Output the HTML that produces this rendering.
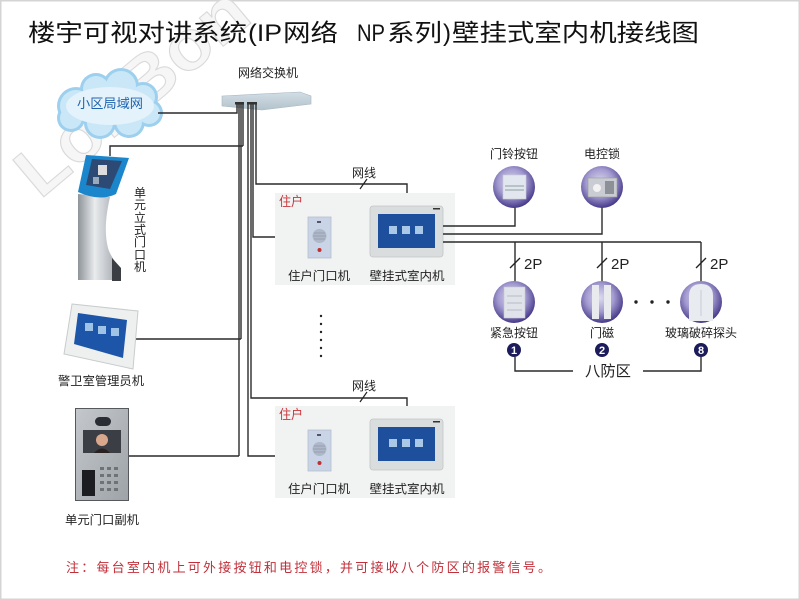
<!DOCTYPE html>
<html><head><meta charset="utf-8"><style>
html,body{margin:0;padding:0;background:#fff;}
body{width:800px;height:600px;overflow:hidden;}
svg{display:block;font-family:"Liberation Sans","Noto Sans CJK SC",sans-serif;}
</style></head><body>
<svg width="800" height="600" viewBox="0 0 800 600" xmlns="http://www.w3.org/2000/svg">
<defs>
<radialGradient id="sph" cx="45%" cy="40%" r="60%">
<stop offset="0" stop-color="#dcdaf0"/><stop offset="0.55" stop-color="#a39bd0"/><stop offset="1" stop-color="#463a8a"/>
</radialGradient>
<linearGradient id="col" x1="0" x2="1" y1="0" y2="0">
<stop offset="0" stop-color="#8e949a"/><stop offset="0.4" stop-color="#e9ebed"/><stop offset="0.8" stop-color="#b4b9be"/><stop offset="1" stop-color="#6d7378"/>
</linearGradient>
<linearGradient id="sw" x1="0" x2="0" y1="0" y2="1">
<stop offset="0" stop-color="#d3dee6"/><stop offset="1" stop-color="#b3c2cc"/>
</linearGradient>
<linearGradient id="pnl" x1="0" x2="1" y1="0" y2="1">
<stop offset="0" stop-color="#c4c8cc"/><stop offset="1" stop-color="#9ea3a8"/>
</linearGradient>
</defs>
<rect x="0.5" y="0.5" width="799" height="599" fill="#fff" stroke="#d4d4d4" stroke-width="2"/>

<!-- watermark -->
<text x="40" y="200" transform="rotate(-40 40 200)" font-size="70" font-weight="bold" fill="#f6f6f6" stroke="#dadada" stroke-width="1.1" textLength="280" lengthAdjust="spacingAndGlyphs">LollBon</text>

<!-- title -->
<g font-size="24" fill="#111">
<text x="28" y="41" textLength="219" lengthAdjust="spacingAndGlyphs">楼宇可视对讲系统</text>
<text x="248" y="41" textLength="34" lengthAdjust="spacingAndGlyphs">(IP</text>
<text x="283" y="41" textLength="55" lengthAdjust="spacingAndGlyphs">网络</text>
<text x="357" y="41" textLength="28" lengthAdjust="spacingAndGlyphs">NP</text>
<text x="387" y="41" textLength="55" lengthAdjust="spacingAndGlyphs">系列</text>
<text x="443" y="41" textLength="8" lengthAdjust="spacingAndGlyphs">)</text>
<text x="452" y="41" textLength="247" lengthAdjust="spacingAndGlyphs">壁挂式室内机接线图</text>
</g>

<!-- cloud -->
<g fill="#9dd0ee">
<circle cx="76" cy="106" r="19"/><circle cx="96" cy="89" r="16"/><circle cx="121" cy="86" r="18"/><circle cx="143" cy="97" r="15"/><circle cx="149" cy="113" r="14"/><circle cx="129" cy="122" r="16"/><circle cx="100" cy="123" r="16"/><circle cx="71" cy="118" r="14"/>
</g>
<g fill="#c9e7f7">
<circle cx="76" cy="106" r="16"/><circle cx="96" cy="89" r="13"/><circle cx="121" cy="86" r="15"/><circle cx="143" cy="97" r="12"/><circle cx="149" cy="113" r="11"/><circle cx="129" cy="122" r="13"/><circle cx="100" cy="123" r="13"/><circle cx="71" cy="118" r="11"/>
</g>
<ellipse cx="110" cy="106" rx="44" ry="19" fill="#e3f2fb"/>
<text x="110" y="108" font-size="13" fill="#1f63b0" text-anchor="middle" textLength="66" lengthAdjust="spacingAndGlyphs">小区局域网</text>

<!-- switch -->
<text x="268" y="77" font-size="12" fill="#222" text-anchor="middle" textLength="60" lengthAdjust="spacingAndGlyphs">网络交换机</text>
<polygon points="222,96 300,92 311,96 311,104 262,110 222,106" fill="url(#sw)" stroke="#a7b6c0" stroke-width="0.6"/>
<rect x="235" y="102" width="9" height="2.5" fill="#333"/><rect x="247" y="102" width="10" height="2.5" fill="#333"/>

<!-- wires -->
<g fill="none" stroke="#2a2a2a" stroke-width="1.4">
<path d="M158,113 H237 V104"/>
<path d="M110,156 V146 H243"/>
<path d="M239,104 V456 M241,104 V339 M243,104 V146"/>
<path d="M133,339 H241"/>
<path d="M129,456 H239"/>
<path d="M256,104 V184 H407 V206"/>
<path d="M253,104 V237 H308"/>
<path d="M251,104 V398 H407 V419"/>
<path d="M248,104 V456 H308"/>
</g>

<!-- kiosk -->
<path d="M78,194 L110,197 C106,215 104,232 108,248 C111,258 118,264 120,272 L120,280 L78,280 Z" fill="url(#col)"/>
<path d="M112,258 L121,268 L121,281 L112,281 Z" fill="#3b3f44"/>
<path d="M86,155 L129,158 L116,194 Q100,202 78,192 Z" fill="#1b86cc"/>
<polygon points="92,159 122,161 110,189 86,185" fill="#2c4a73"/>
<rect x="98" y="165" width="9" height="10" fill="#ddd"/>
<rect x="93" y="177" width="6" height="7" fill="#9ab"/>

<!-- kiosk label -->
<g font-size="12" fill="#222" text-anchor="middle">
<text x="140" y="197">单</text><text x="140" y="209">元</text><text x="140" y="222">立</text><text x="140" y="234">式</text><text x="140" y="246">门</text><text x="140" y="259">口</text><text x="140" y="271">机</text>
</g>

<!-- guard machine -->
<polygon points="72,304 138,311 133,369 64,354" fill="#eef0f0" stroke="#c8cccc" stroke-width="1"/>
<polygon points="78,313 127,320 123,358 74,344" fill="#1d56a8"/>
<rect x="85" y="323" width="8" height="8" fill="#9fc3e6"/><rect x="98" y="326" width="8" height="8" fill="#9fc3e6"/><rect x="111" y="328" width="8" height="8" fill="#9fc3e6"/>
<text x="101" y="385" font-size="12" fill="#222" text-anchor="middle" textLength="86" lengthAdjust="spacingAndGlyphs">警卫室管理员机</text>

<!-- sub door unit -->
<rect x="75.5" y="408.5" width="53" height="92" fill="url(#pnl)" stroke="#55595d" stroke-width="1"/>
<rect x="95" y="417" width="16" height="9" rx="4.5" fill="#2a2d33"/>
<rect x="83" y="430" width="38" height="23" fill="#3b3e45"/>
<circle cx="102" cy="440" r="6" fill="#d9a88c"/><path d="M94,453 Q102,444 110,453 Z" fill="#2a2020"/>
<rect x="82" y="470" width="13" height="26" fill="#1c1d20"/>
<g fill="#6e7378"><rect x="100" y="467" width="4" height="3"/><rect x="107" y="467" width="4" height="3"/><rect x="114" y="467" width="4" height="3"/><rect x="100" y="474" width="4" height="3"/><rect x="107" y="474" width="4" height="3"/><rect x="114" y="474" width="4" height="3"/><rect x="100" y="481" width="4" height="3"/><rect x="107" y="481" width="4" height="3"/><rect x="114" y="481" width="4" height="3"/><rect x="100" y="488" width="4" height="3"/><rect x="107" y="488" width="4" height="3"/><rect x="114" y="488" width="4" height="3"/></g>
<text x="102" y="524" font-size="12" fill="#222" text-anchor="middle" textLength="74" lengthAdjust="spacingAndGlyphs">单元门口副机</text>

<!-- households -->
<g id="hh">
<rect x="275" y="193" width="180" height="92" fill="#f1f2f2"/>
<text x="279" y="206" font-size="13" fill="#c8343a" textLength="24" lengthAdjust="spacingAndGlyphs">住户</text>
<rect x="308" y="217" width="23" height="41" fill="#c9d5e6" stroke="#b3bfcf" stroke-width="0.8"/>
<rect x="317" y="221" width="4" height="2" fill="#556"/>
<circle cx="319.5" cy="236" r="7" fill="#aeb8c8"/>
<path d="M314,233 H325 M313,236 H326 M314,239 H325" stroke="#8e98aa" stroke-width="0.8"/>
<circle cx="319.5" cy="250" r="2" fill="#c03030"/>
<rect x="370" y="206" width="73" height="51" rx="3" fill="#d9dddd" stroke="#c2c6c6" stroke-width="0.8"/>
<rect x="378" y="214" width="57" height="34" fill="#1e4f9c"/>
<rect x="389" y="226" width="8" height="8" fill="#a9c8e8"/><rect x="402" y="226" width="8" height="8" fill="#a9c8e8"/><rect x="415" y="226" width="8" height="8" fill="#a9c8e8"/>
<rect x="433" y="208" width="7" height="1.5" fill="#333"/>
<text x="319" y="280" font-size="12" fill="#222" text-anchor="middle" textLength="62" lengthAdjust="spacingAndGlyphs">住户门口机</text>
<text x="407" y="280" font-size="12" fill="#222" text-anchor="middle" textLength="75" lengthAdjust="spacingAndGlyphs">壁挂式室内机</text>
<text x="364" y="177" font-size="12" fill="#222" text-anchor="middle" textLength="24" lengthAdjust="spacingAndGlyphs">网线</text>
<path d="M360,189 L367,179" stroke="#222" stroke-width="1.2"/>
</g>
<use href="#hh" transform="translate(0,213)"/>

<!-- vertical dots -->
<g fill="#222"><circle cx="321" cy="316" r="1.2"/><circle cx="321" cy="324" r="1.2"/><circle cx="321" cy="332" r="1.2"/><circle cx="321" cy="340" r="1.2"/><circle cx="321" cy="348" r="1.2"/><circle cx="321" cy="356" r="1.2"/></g>

<!-- right side wiring -->
<g fill="none" stroke="#2a2a2a" stroke-width="1.4">
<path d="M443,226 H515 V206"/>
<path d="M443,234 H602 V206"/>
<path d="M443,242 H701"/>
<path d="M515,242 V282 M602,242 V282 M701,242 V282"/>
<path d="M515,357 V371 H573 M643,371 H701 V357"/>
</g>
<g stroke="#222" stroke-width="1.3">
<path d="M510,268 L520,258"/><path d="M597,268 L607,258"/><path d="M696,268 L706,258"/>
</g>
<g font-size="15" fill="#222">
<text x="524" y="269">2P</text><text x="611" y="269">2P</text><text x="710" y="269">2P</text>
</g>

<!-- spheres -->
<circle cx="514" cy="187" r="21" fill="url(#sph)"/>
<rect x="503" y="175" width="23" height="24" fill="#e2e6ee" stroke="#c8ccd6" stroke-width="0.6"/>
<path d="M505,186 H524 M505,190 H524" stroke="#8fa0a0" stroke-width="1"/>
<circle cx="602" cy="187" r="21" fill="url(#sph)"/>
<rect x="588" y="178" width="29" height="19" fill="#c9ccd2" stroke="#999" stroke-width="0.6"/>
<circle cx="597" cy="188" r="4" fill="#f2f2f2"/><rect x="605" y="181" width="9" height="13" fill="#8d9096"/>
<circle cx="514" cy="302" r="21" fill="url(#sph)"/>
<rect x="504" y="287" width="21" height="31" fill="#e0e4ea" stroke="#c2c6ce" stroke-width="0.6"/>
<path d="M507,296 H522 M507,303 H522 M507,310 H522" stroke="#a8aeb8" stroke-width="0.8"/>
<circle cx="602" cy="302" r="21" fill="url(#sph)"/>
<rect x="592" y="285" width="7" height="34" fill="#e8eaee"/><rect x="604" y="285" width="7" height="34" fill="#e8eaee"/>
<circle cx="701" cy="302" r="21" fill="url(#sph)"/>
<path d="M689,321 V296 Q689,284 701,284 Q713,284 713,296 V321 Z" fill="#e8ecf0"/>
<path d="M701,290 V316" stroke="#c8ccd4" stroke-width="1"/>

<g fill="#222"><circle cx="636" cy="302" r="1.7"/><circle cx="652" cy="302" r="1.7"/><circle cx="668" cy="302" r="1.7"/></g>

<g font-size="12" fill="#222" text-anchor="middle">
<text x="514" y="158" textLength="48" lengthAdjust="spacingAndGlyphs">门铃按钮</text>
<text x="602" y="158" textLength="36" lengthAdjust="spacingAndGlyphs">电控锁</text>
<text x="514" y="337" textLength="48" lengthAdjust="spacingAndGlyphs">紧急按钮</text>
<text x="602" y="337" textLength="24" lengthAdjust="spacingAndGlyphs">门磁</text>
<text x="701" y="337" textLength="72" lengthAdjust="spacingAndGlyphs">玻璃破碎探头</text>
</g>
<g fill="#1c1c5c"><circle cx="514" cy="350" r="7"/><circle cx="602" cy="350" r="7"/><circle cx="701" cy="350" r="7"/></g>
<g font-size="11" font-weight="bold" fill="#fff" text-anchor="middle">
<text x="514" y="354">1</text><text x="602" y="354">2</text><text x="701" y="354">8</text>
</g>
<text x="608" y="376" font-size="15" fill="#222" text-anchor="middle" textLength="46" lengthAdjust="spacingAndGlyphs">八防区</text>

<!-- note -->
<text x="66" y="572" font-size="13" fill="#c0303a" textLength="485" lengthAdjust="spacing">注：每台室内机上可外接按钮和电控锁，并可接收八个防区的报警信号。</text>
</svg>
</body></html>
